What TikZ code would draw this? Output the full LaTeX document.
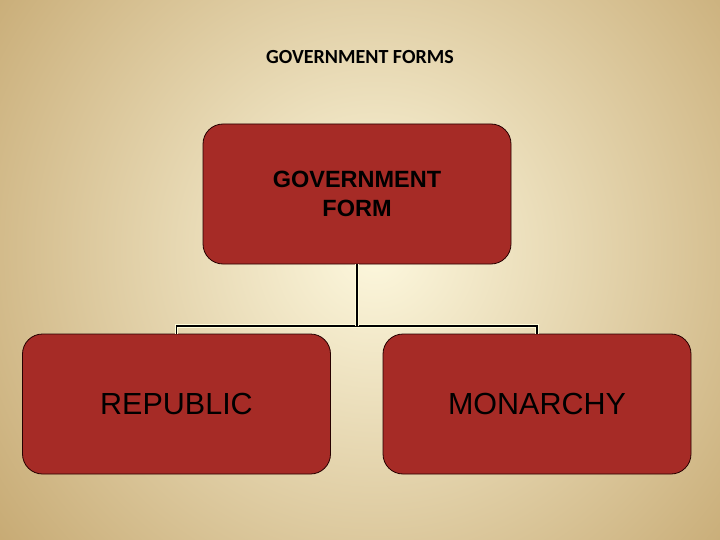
\documentclass[tikz,border=0pt]{standalone}
\usepackage{fontspec}
\setmainfont{Liberation Sans}
\newfontfamily\titlefont{Carlito}
\usetikzlibrary{positioning}

\definecolor{bgin}{RGB}{253,248,222}
\definecolor{bgout}{RGB}{192,160,102}
\definecolor{boxred}{RGB}{166,43,38}

\tikzset{
  formbox/.style={draw=black!85!red, line width=0.8pt, fill=boxred,
                  rounded corners=20pt, minimum width=308pt, minimum height=140pt,
                  inner sep=0pt, align=center},
  link/.style={draw=black, line width=1.7pt,
               preaction={draw=white!85!yellow, line width=3.6pt}}
}

\begin{document}
\begin{tikzpicture}[x=1pt, y=-1pt]
\useasboundingbox (0,0) rectangle (720,540);
% background glow
\begin{scope}
  \clip (0,0) rectangle (720,540);
  \shade[inner color=bgin, outer color=bgout] (375,250) circle [radius=540pt];
\end{scope}

\node[font=\titlefont\bfseries\fontsize{20}{24}\selectfont] (title) at (360,57) {GOVERNMENT FORMS};

\node[formbox, font=\bfseries\fontsize{23.5}{29}\selectfont] (gov) at (357,194) {GOVERNMENT\\FORM};
\node[formbox, font=\fontsize{30.5}{36}\selectfont] (rep) at (176.5,404) {REPUBLIC};
\node[formbox, font=\fontsize{30.5}{36}\selectfont] (mon) at (537,404) {MONARCHY};

\coordinate (bar) at (357,326);
\draw[link] (rep.north) |- (bar) -| (mon.north);
\draw[link] (gov.south) -- (bar);
\end{tikzpicture}
\end{document}
